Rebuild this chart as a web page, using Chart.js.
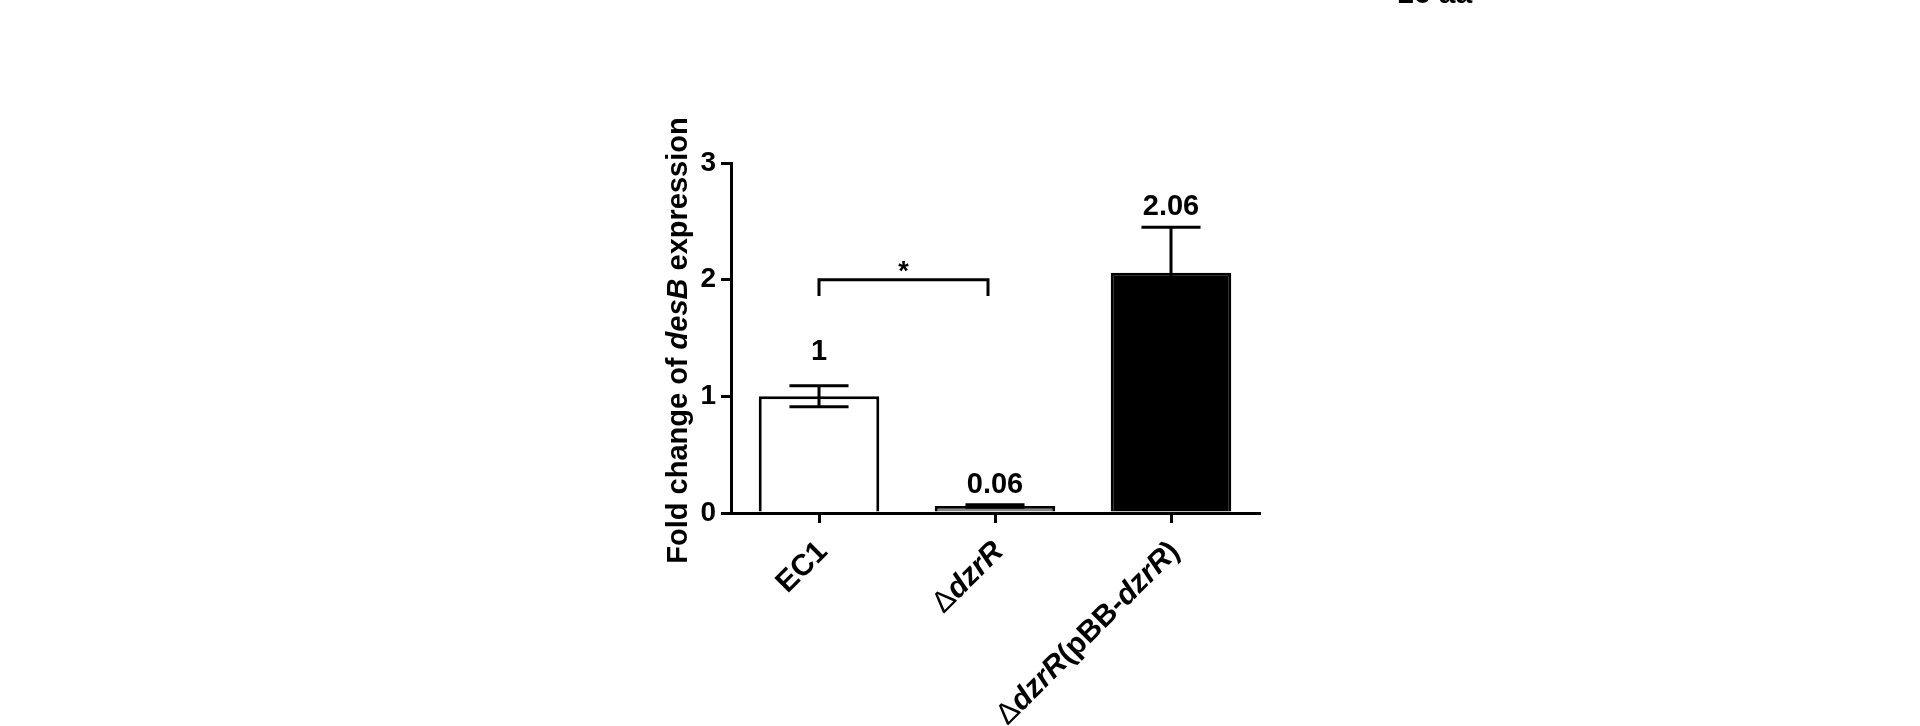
<!DOCTYPE html>
<html>
<head>
<meta charset="utf-8">
<script src="https://cdn.jsdelivr.net/npm/chart.js@4.4.1/dist/chart.umd.min.js"></script>
<style>
  html, body { margin: 0; padding: 0; background: #ffffff; }
  #wrap { width: 1920px; height: 726px; }
  canvas { display: block; }
</style>
</head>
<body>
<div id="wrap"><canvas id="c" width="1920" height="726"></canvas></div>
<script>
// ---------------- data ----------------
const categories = ['EC1', 'ΔdzrR', 'ΔdzrR(pBB-dzrR)'];
const foldChange = [1.0, 0.06, 2.06];
const errorSEM = [0.09, 0.01, 0.39];
const valueLabels = ['1', '0.06', '2.06'];
const barColors = ['#ffffff', '#858585', '#000000'];
const yTicks = [0, 1, 2, 3];
const yTitle = 'Fold change of desB expression';
const italicWords = ['desB', 'dzrR'];
const sigPair = [0, 1];
const sigLevel = 2.0;
const sigLegBottom = 1.86;
const sigMark = '*';
const cornerText = '16 aa';

// ---------------- helpers ----------------
const FAM = '"Liberation Sans", Arial, sans-serif';
function segments(str) {
  return str.split(/(desB|dzrR|Δ)/).filter(s => s.length).map(s => ({
    t: s,
    style: italicWords.includes(s) ? 'italic' : 'normal',
    weight: s === 'Δ' ? 'normal' : 'bold'
  }));
}
function drawSegments(ctx, str, size, align) {
  const segs = segments(str);
  let total = 0;
  segs.forEach(s => {
    ctx.font = `${s.style} ${s.weight} ${size}px ${FAM}`;
    s.w = ctx.measureText(s.t).width;
    total += s.w;
  });
  let cur = align === 'right' ? -total : -total / 2;
  ctx.textAlign = 'left';
  segs.forEach(s => {
    ctx.font = `${s.style} ${s.weight} ${size}px ${FAM}`;
    ctx.fillText(s.t, cur, 0);
    cur += s.w;
  });
}

const labelOffsets = [26, 12, 12];

const annotPlugin = {
  id: 'annot',
  afterDatasetsDraw(chart) {
    const { ctx } = chart;
    const y = chart.scales.y;
    const meta = chart.getDatasetMeta(0);
    ctx.save();
    ctx.strokeStyle = '#000';
    ctx.fillStyle = '#000';
    ctx.lineWidth = 3;
    ctx.lineCap = 'butt';
    // error bars
    meta.data.forEach((bar, i) => {
      const cx = bar.x;
      const half = bar.width * 0.245;
      const yt = y.getPixelForValue(foldChange[i] + errorSEM[i]);
      const yb = y.getPixelForValue(foldChange[i] - errorSEM[i]);
      ctx.beginPath();
      ctx.moveTo(cx, yt); ctx.lineTo(cx, yb);
      ctx.moveTo(cx - half, yt); ctx.lineTo(cx + half, yt);
      ctx.moveTo(cx - half, yb); ctx.lineTo(cx + half, yb);
      ctx.stroke();
      // value labels
      ctx.font = `bold 29px ${FAM}`;
      ctx.textAlign = 'center';
      ctx.textBaseline = 'alphabetic';
      ctx.fillText(valueLabels[i], cx, yt - labelOffsets[i]);
    });
    // significance bracket
    const x1 = meta.data[sigPair[0]].x;
    const x2 = meta.data[sigPair[1]].x - 7;
    const yl = y.getPixelForValue(sigLevel);
    const yLeg = y.getPixelForValue(sigLegBottom);
    ctx.beginPath();
    ctx.lineJoin = 'miter';
    ctx.moveTo(x1, yLeg); ctx.lineTo(x1, yl); ctx.lineTo(x2, yl); ctx.lineTo(x2, yLeg);
    ctx.stroke();
    ctx.font = `bold 27px ${FAM}`;
    ctx.textAlign = 'center';
    ctx.textBaseline = 'alphabetic';
    ctx.fillText(sigMark, (x1 + x2) / 2, yl);
    ctx.restore();
  },
  afterDraw(chart) {
    const { ctx } = chart;
    const x = chart.scales.x;
    const y = chart.scales.y;
    ctx.save();
    ctx.fillStyle = '#000';
    // rotated x labels
    categories.forEach((lab, i) => {
      const tx = x.getPixelForTick(i);
      ctx.save();
      ctx.translate(tx + 4, x.top + 34);
      ctx.rotate(-Math.PI / 4);
      ctx.textBaseline = 'middle';
      drawSegments(ctx, lab, 30, 'right');
      ctx.restore();
    });
    // y title
    ctx.save();
    ctx.translate(y.left + 57, (y.top + y.bottom) / 2 + 2.5);
    ctx.rotate(-Math.PI / 2);
    ctx.textBaseline = 'alphabetic';
    drawSegments(ctx, yTitle, 29, 'center');
    ctx.restore();
    // clipped caption at top
    ctx.font = `bold 30px ${FAM}`;
    ctx.textAlign = 'left';
    ctx.textBaseline = 'alphabetic';
    ctx.fillText(cornerText, 1397, 3);
    ctx.restore();
  }
};

new Chart(document.getElementById('c'), {
  type: 'bar',
  data: {
    labels: categories,
    datasets: [{
      data: foldChange,
      backgroundColor: barColors,
      borderColor: '#000000',
      borderWidth: 3,
      barPercentage: 0.685,
      categoryPercentage: 1.0
    }]
  },
  options: {
    responsive: false,
    animation: false,
    devicePixelRatio: 1,
    layout: { padding: { left: 630, right: 661, top: 163, bottom: 113 } },
    plugins: { legend: { display: false }, tooltip: { enabled: false } },
    scales: {
      x: {
        offset: true,
        z: 1,
        grid: {
          display: true, drawOnChartArea: false, drawTicks: true,
          tickLength: 10, tickWidth: 3, tickColor: '#000', color: '#000',
          lineWidth: 3, offset: false
        },
        border: { display: true, color: '#000', width: 3 },
        ticks: { display: false },
        afterFit: s => { s.height = 100; }
      },
      y: {
        min: 0, max: 3,
        z: 1,
        afterBuildTicks: s => { s.ticks = yTicks.map(v => ({ value: v })); },
        grid: {
          display: true, drawOnChartArea: false, drawTicks: true,
          tickLength: 10, tickWidth: 3, tickColor: '#000', color: '#000', lineWidth: 3
        },
        border: { display: true, color: '#000', width: 3 },
        ticks: {
          color: '#000', padding: 5,
          font: { family: FAM, weight: 'bold', size: 28 }
        },
        afterFit: s => { s.width = 101; }
      }
    }
  },
  plugins: [annotPlugin]
});
</script>
</body>
</html>
